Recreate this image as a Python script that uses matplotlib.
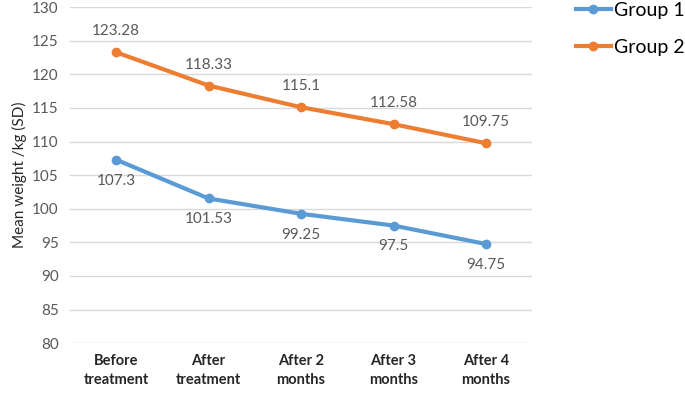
import matplotlib.pyplot as plt
import numpy as np

categories = ['Before\ntreatment', 'After\ntreatment', 'After 2\nmonths', 'After 3\nmonths', 'After 4\nmonths']
group1 = [107.3, 101.53, 99.25, 97.5, 94.75]
group2 = [123.28, 118.33, 115.1, 112.58, 109.75]
group1_labels = ['107.3', '101.53', '99.25', '97.5', '94.75']
group2_labels = ['123.28', '118.33', '115.1', '112.58', '109.75']

plt.rcParams['font.family'] = ['Lato', 'DejaVu Sans']
blue = '#5B9BD5'
orange = '#ED7D31'
grey = '#595959'

fig = plt.figure(figsize=(6.85, 3.94), dpi=100)
ax = fig.add_axes([0.102, 0.129, 0.675, 0.853])

x = np.arange(len(categories))
l1, = ax.plot(x, group1, color=blue, lw=3, marker='o', ms=6, label='Group 1', zorder=3)
l2, = ax.plot(x, group2, color=orange, lw=3, marker='o', ms=6, label='Group 2', zorder=3)

for xi, v, s in zip(x, group1, group1_labels):
    ax.annotate(s, (xi, v), xytext=(0, -15), textcoords='offset points',
                ha='center', va='center', fontsize=11, color=grey)
for xi, v, s in zip(x, group2, group2_labels):
    ax.annotate(s, (xi, v), xytext=(0, 15), textcoords='offset points',
                ha='center', va='center', fontsize=11, color=grey)

ax.set_xlim(-0.5, 4.5)
ax.set_ylim(80, 130)
ax.set_yticks(np.arange(80, 131, 5))
ax.set_xticks(x)
ax.set_xticklabels(categories, fontweight='bold', fontsize=10.5, color='#262626',
                   linespacing=1.4)
ax.tick_params(axis='y', labelsize=11, labelcolor=grey, length=0, pad=8)
ax.tick_params(axis='x', length=0, pad=8)
ax.grid(axis='y', color='#D9D9D9', lw=1)
ax.set_axisbelow(True)
for s in ax.spines.values():
    s.set_visible(False)
ax.set_ylabel('Mean weight /kg (SD)', fontsize=11, color='#262626', labelpad=4)

fig.legend(handles=[l1, l2], loc='upper left', bbox_to_anchor=(0.815, 1.04),
           frameon=False, fontsize=14, handlelength=1.8, labelspacing=1.05,
           handletextpad=0.15)

fig.savefig('out.png', dpi=100)
